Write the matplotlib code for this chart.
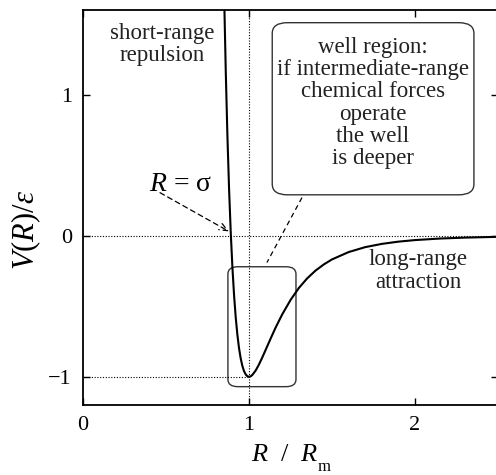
import matplotlib
matplotlib.use('Agg')
import matplotlib.pyplot as plt
from matplotlib.patches import FancyBboxPatch

plt.rcParams['font.family'] = ['Liberation Serif', 'DejaVu Serif']
plt.rcParams['mathtext.fontset'] = 'custom'
plt.rcParams['mathtext.rm'] = 'Liberation Serif'
plt.rcParams['mathtext.it'] = 'Liberation Serif:italic'

# Potential curve (R/Rm, V/eps)
r_vals = [0.852, 0.86, 0.87, 0.88, 0.89, 0.90, 0.91, 0.92, 0.93, 0.94,
          0.95, 0.96, 0.97, 0.98, 0.99, 1.00, 1.01, 1.02, 1.04, 1.06,
          1.08, 1.10, 1.13, 1.16, 1.20, 1.25, 1.30, 1.35, 1.40, 1.45,
          1.50, 1.60, 1.70, 1.80, 1.90, 2.00, 2.15, 2.30, 2.50]
v_vals = [1.605, 1.166, 0.706, 0.330, 0.024, -0.223, -0.421, -0.579, -0.702, -0.798,
          -0.870, -0.923, -0.960, -0.983, -0.996, -1.000, -0.997, -0.987, -0.956, -0.913,
          -0.863, -0.810, -0.730, -0.652, -0.558, -0.456, -0.371, -0.303, -0.248, -0.204,
          -0.168, -0.116, -0.081, -0.058, -0.042, -0.031, -0.020, -0.0135, -0.008]

x_ticks = [0, 1, 2]
y_ticks = [-1, 0, 1]
y_ticklabels = ['\u22121', '0', '1']

fig = plt.figure(figsize=(4.96, 4.75), dpi=100)
ax = fig.add_axes([83 / 496, 70 / 475, 415 / 496, 395 / 475])

ax.plot(r_vals, v_vals, color='black', lw=1.5, zorder=3)

# guide lines
dots = (0, (1, 1.5))
ax.axhline(0, color='black', lw=0.8, ls=dots)
ax.axvline(1, color='black', lw=0.8, ls=dots)
ax.plot([0, 1], [-1, -1], color='black', lw=0.8, ls=dots)

ax.set_xlim(0, 2.5)
ax.set_ylim(-1.2, 1.6)
ax.set_xticks(x_ticks)
ax.set_xticklabels([str(t) for t in x_ticks])
ax.set_yticks(y_ticks)
ax.set_yticklabels(y_ticklabels)
ax.tick_params(direction='in', top=True, right=True, length=5, width=1,
               labelsize=16, pad=8)
for s in ax.spines.values():
    s.set_linewidth(1.3)

# boxes
well_box = FancyBboxPatch((0.873, -1.07), 0.41, 0.85,
                          boxstyle='round,pad=0,rounding_size=0.06',
                          fc='none', ec='#333333', lw=1.0,
                          mutation_aspect=141 / 166)
ax.add_patch(well_box)
info_box = FancyBboxPatch((1.14, 0.29), 1.215, 1.22,
                          boxstyle='round,pad=0,rounding_size=0.09',
                          fc='none', ec='#333333', lw=1.0,
                          mutation_aspect=141 / 166)
ax.add_patch(info_box)

txt = dict(ha='center', va='center', fontsize=16.5, linespacing=1.08, color='#222222')
ax.text(1.747, 0.94, 'well region:\nif intermediate-range\nchemical forces\noperate\nthe well\nis deeper', **txt)
ax.text(0.48, 1.355, 'short-range\nrepulsion', **txt)
ax.text(2.02, -0.25, 'long-range\nattraction', **txt)

ax.text(0.585, 0.36, '$R$ = \u03c3', ha='center', va='center', fontsize=20)
ax.annotate('', xy=(0.88, 0.03), xytext=(0.464, 0.305),
            arrowprops=dict(arrowstyle='->,head_length=0.6,head_width=0.25',
                            ls=(0, (4, 3)), lw=0.9, color='black',
                            shrinkA=0, shrinkB=0))
ax.plot([1.319, 1.108], [0.27, -0.19], color='black', lw=0.9, ls=(0, (4, 3)))

fig.text(26 / 496, 1 - 230 / 475, r'$V(R)/\varepsilon$', rotation=90,
         ha='center', va='center', fontsize=22)
fig.text(285 / 496, 1 - 455 / 475, '$R$  /  $R$', ha='center', va='center', fontsize=19)
fig.text(324 / 496, 1 - 467 / 475, 'm', ha='center', va='center', fontsize=12)

fig.savefig('out.png', dpi=100)
